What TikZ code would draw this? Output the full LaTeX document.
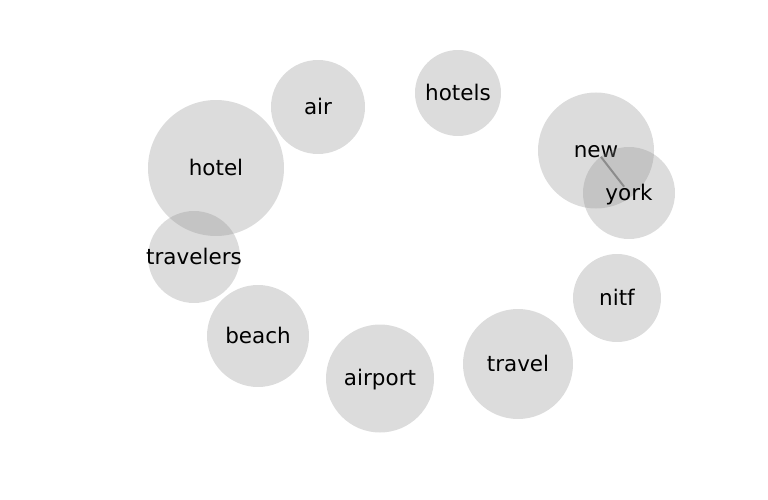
\documentclass[tikz,border=0pt]{standalone}
\usepackage{fontspec}
\setmainfont{DejaVu Sans}
\usetikzlibrary{positioning}

\begin{document}
\begin{tikzpicture}[x=1pt,y=-1pt]
\tikzstyle{every node}+=[inner sep=0pt]
\tikzstyle{word}=[circle, fill=black!45, fill opacity=0.3, text opacity=1, text height=19.5pt, text depth=5pt, font=\fontsize{21.5}{26}\selectfont]
\useasboundingbox (0,0) rectangle (768,500);
\node [word, minimum size=136pt] (hotel) at (216,168) {hotel};
\node [word, minimum size=94pt] (air) at (318,107) {air};
\node [word, minimum size=86pt] (hotels) at (458,93) {hotels};
\node [word, minimum size=116pt] (new) at (596,150.5) {new};
\node [word, minimum size=92pt] (york) at (629,193) {york};
\node [word, minimum size=92pt, inner sep=-6pt] (travelers) at (194,257) {travelers};
\node [word, minimum size=88pt] (nitf) at (617,298) {nitf};
\node [word, minimum size=102pt] (beach) at (258,336) {beach};
\node [word, minimum size=108pt] (airport) at (380,378.5) {airport};
\node [word, minimum size=110pt] (travel) at (518,364) {travel};
\draw [black!45, line width=2pt, shorten <=8pt, shorten >=8pt] (new.center) -- (york.center);
\end{tikzpicture}
\end{document}
